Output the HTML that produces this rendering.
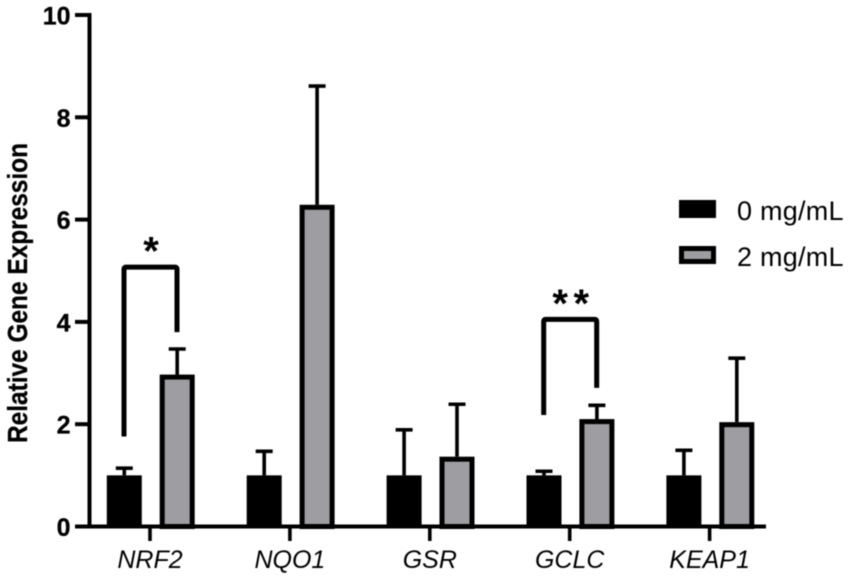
<!DOCTYPE html>
<html lang="en">
<head>
<meta charset="utf-8">
<title>Relative Gene Expression</title>
<style>
html,body{margin:0;padding:0;background:#fff;}
svg{display:block;font-family:"Liberation Sans",sans-serif;filter:blur(0.4px);}
</style>
</head>
<body>
<svg id="chart" width="851" height="577" viewBox="0 0 851 577" xmlns="http://www.w3.org/2000/svg"></svg>
<script>
const categories = ["NRF2", "NQO1", "GSR", "GCLC", "KEAP1"];
const controlValues = [1, 1, 1, 1, 1];
const controlErrorTops = [1.14, 1.47, 1.89, 1.08, 1.49];
const treatedValues = [2.97, 6.29, 1.365, 2.10, 2.04];
const treatedErrorTops = [3.47, 8.61, 2.39, 2.37, 3.29];
const yTicks = [0, 2, 4, 6, 8, 10];
const seriesNames = ["0 mg/mL", "2 mg/mL"];
const axisTitle = "Relative Gene Expression";
const bracketGroups = [0, 3];
const bracketStars = ["*", "**"];
const bracketTops = [5.07, 4.05];
const bracketLeftEnds = [1.76, 2.18];
const bracketRightEnds = [3.80, 2.71];

const NS = "http://www.w3.org/2000/svg";
const svg = document.getElementById("chart");
function yScale(v) { return 526.5 - v * 51.15; }
function xCenter(i) { return 150 + i * 139.9; }
function make(tag, attrs, text) {
  const el = document.createElementNS(NS, tag);
  for (const k in attrs) el.setAttribute(k, attrs[k]);
  if (text !== undefined) el.textContent = text;
  svg.appendChild(el);
  return el;
}

/* y axis */
const yAxis = make("line", {x1: 89.5, x2: 89.5, y1: yScale(10) - 2, y2: yScale(0) + 2, stroke: "#000", "stroke-width": 4});


yTicks.forEach(function (t) {
  const tick = make("line", {x1: 75, x2: 90, y1: yScale(t), y2: yScale(t), stroke: "#000", "stroke-width": 4});
  
  
  const label = make("text", {x: 70.5, y: yScale(t) + 9.5, "text-anchor": "end", "font-size": 25, "font-weight": "bold", stroke: "#000", "stroke-width": 0.3, fill: "#000"}, t);
  
  
});

/* bars */
categories.forEach(function (c, i) {
  const cx = xCenter(i);
  const bx = cx - 25.7;
  const gx = cx + 27.2;

  const e1 = make("path", {d: "M" + bx + " " + yScale(controlValues[i]) + "V" + yScale(controlErrorTops[i]) + "M" + (bx - 8.5) + " " + yScale(controlErrorTops[i]) + "H" + (bx + 8.5), stroke: "#000", "stroke-width": 3.6, fill: "none"});
  
  
  const b1 = make("rect", {x: bx - 17.5, y: yScale(controlValues[i]), width: 35, height: yScale(0) - yScale(controlValues[i]), fill: "#000"});
  
  

  const e2 = make("path", {d: "M" + gx + " " + yScale(treatedValues[i]) + "V" + yScale(treatedErrorTops[i]) + "M" + (gx - 8.5) + " " + yScale(treatedErrorTops[i]) + "H" + (gx + 8.5), stroke: "#000", "stroke-width": 3.6, fill: "none"});
  
  
  const b2 = make("rect", {x: gx - 15, y: yScale(treatedValues[i]) + 2.5, width: 30, height: yScale(0) - yScale(treatedValues[i]) - 2.5, fill: "#9e9ea2", stroke: "#000", "stroke-width": 5});
  
  
});

/* x axis */
const xAxis = make("line", {x1: 75, x2: 766, y1: yScale(0), y2: yScale(0), stroke: "#000", "stroke-width": 4});


categories.forEach(function (c, i) {
  const tick = make("line", {x1: xCenter(i), x2: xCenter(i), y1: yScale(0), y2: 541, stroke: "#000", "stroke-width": 3.6});
  
  
  const label = make("text", {x: xCenter(i), y: 568, "text-anchor": "middle", "font-size": 25, "font-style": "italic", fill: "#000"}, c);
  
  
});

/* y axis title */
const title = make("text", {transform: "translate(27 293) rotate(-90)", "text-anchor": "middle", "font-size": 27.5, "font-weight": "bold", textLength: 300, lengthAdjust: "spacingAndGlyphs", stroke: "#000", "stroke-width": 0.3, fill: "#000"}, axisTitle);



/* significance brackets */
bracketGroups.forEach(function (g, i) {
  const left = xCenter(g) - 26;
  const right = xCenter(g) + 27;
  const top = yScale(bracketTops[i]);
  const br = make("path", {d: "M" + left + " " + yScale(bracketLeftEnds[i]) + "V" + (top + 2) + "Q" + left + " " + top + " " + (left + 2) + " " + top + "H" + (right - 2) + "Q" + right + " " + top + " " + right + " " + (top + 2) + "V" + yScale(bracketRightEnds[i]), stroke: "#000", "stroke-width": 5, fill: "none"});
  
  
  const spacing = bracketStars[i].length > 1 ? 5.5 : 0;
  const star = make("text", {x: (left + right) / 2 + 0.5 + spacing / 2, y: top - 2.5, "text-anchor": "middle", "font-size": 40, "font-weight": "bold", "letter-spacing": spacing, fill: "#000"}, bracketStars[i]);
  
  
});

/* legend */
seriesNames.forEach(function (name, i) {
  const y = 200 + i * 46;
  const sw = i === 0
    ? make("rect", {x: 679, y: y, width: 37, height: 18, fill: "#000"})
    : make("rect", {x: 681.5, y: y + 2.5, width: 32, height: 13, fill: "#9e9ea2", stroke: "#000", "stroke-width": 5});
  
  
  const t = make("text", {x: 737, y: y + 20, "font-size": 27, "letter-spacing": 0.25, fill: "#000"}, name);
  
  
});
</script>
</body>
</html>
